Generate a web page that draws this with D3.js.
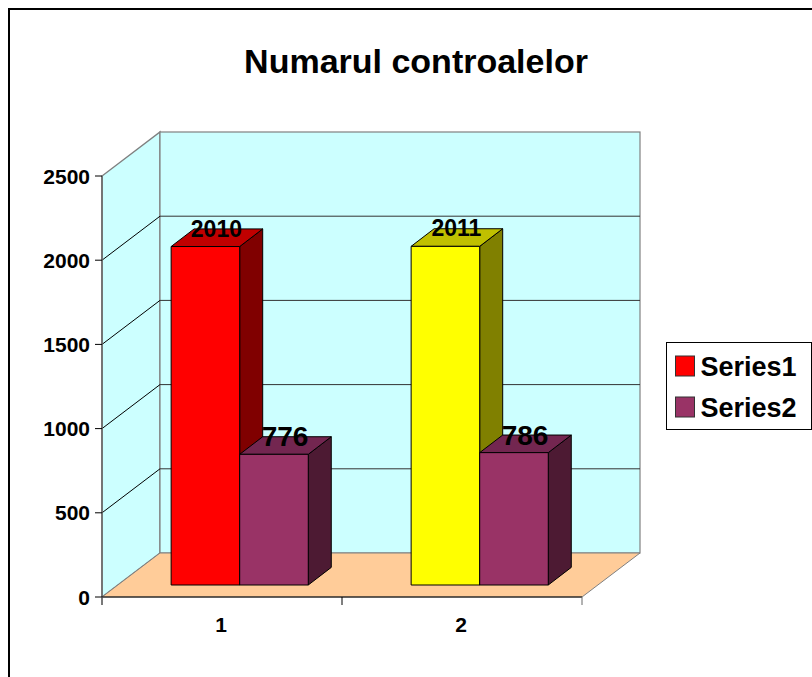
<!DOCTYPE html>
<html><head><meta charset="utf-8">
<script src="https://cdn.jsdelivr.net/npm/d3@7/dist/d3.min.js"></script>
<style>html,body{margin:0;padding:0;background:#fff}svg{display:block}text{font-family:"Liberation Sans",Arial,sans-serif;font-weight:bold;fill:#000}</style>
</head><body><svg id="c" width="812" height="677"></svg>
<script>
const titleText = "Numarul controalelor";
const categories = ["1", "2"];
const seriesNames = ["Series1", "Series2"];
const series1Values = [2010, 2011];
const series2Values = [776, 786];
const series1Labels = ["2010", "2011"];
const series2Labels = ["776", "786"];
const valueTicks = [0, 500, 1000, 1500, 2000, 2500];
const series1Colors = [{f:"#ff0000",t:"#c00000",s:"#800000"},{f:"#ffff00",t:"#c0c000",s:"#808000"}];
const series2Colors = {f:"#993366",t:"#732650",s:"#4d1a33"};

const svg = d3.select("#c");
const depth = {x:58, y:-44}, barDepth = {x:23, y:-17.6}, inset = {x:17.7, y:-12};
const y = d3.scaleLinear().domain([0,2500]).range([597,176]);
const x0 = d3.scaleBand().domain(categories).range([102,582]).paddingInner(0).paddingOuter(0);
const x1 = d3.scaleBand().domain(seriesNames).range([0,x0.bandwidth()]).paddingOuter(0.75).paddingInner(0);
const poly = pts => pts.map(p=>p.join(",")).join(" ");

// frame
svg.append("rect").attr("x",9).attr("y",9).attr("width",830).attr("height",700).attr("fill","#fff").attr("stroke","#000").attr("stroke-width",2);

// title
svg.append("text").attr("x",416).attr("y",73).attr("text-anchor","middle").style("font-size","34px").text(titleText);

const x_l = x0.range()[0], x_r = x0.range()[1], y0 = y(0), yT = y(2500);
// side wall + back wall + floor
svg.append("polygon").attr("points",poly([[x_l,y0],[x_l+depth.x,y0+depth.y],[x_l+depth.x,yT+depth.y],[x_l,yT]])).attr("fill","#ccffff").attr("stroke","#808080").attr("stroke-width",1.4);
svg.append("rect").attr("x",x_l+depth.x).attr("y",yT+depth.y).attr("width",x_r-x_l).attr("height",y0-yT).attr("fill","#ccffff").attr("stroke","#808080").attr("stroke-width",1.2);
svg.append("polygon").attr("points",poly([[x_l,y0],[x_r,y0],[x_r+depth.x,y0+depth.y],[x_l+depth.x,y0+depth.y]])).attr("fill","#ffcc99").attr("stroke","#808080").attr("stroke-width",1);

// gridlines
svg.selectAll("line.gs").data(valueTicks.slice(1,-1)).join("line").attr("class","gs")
  .attr("x1",x_l).attr("y1",d=>y(d)).attr("x2",x_l+depth.x).attr("y2",d=>y(d)+depth.y).attr("stroke","#000").attr("stroke-width",1);
svg.selectAll("line.gb").data(valueTicks.slice(1,-1)).join("line").attr("class","gb")
  .attr("x1",x_l+depth.x).attr("y1",d=>y(d)+depth.y).attr("x2",x_r+depth.x).attr("y2",d=>y(d)+depth.y).attr("stroke","#333").attr("stroke-width",1);

// axes
svg.append("line").attr("x1",x_l).attr("x2",x_l).attr("y1",yT).attr("y2",y0+8).attr("stroke","#666").attr("stroke-width",1.5);
svg.append("line").attr("x1",x_l).attr("x2",x_r).attr("y1",y0).attr("y2",y0).attr("stroke","#000").attr("stroke-width",1.2);
svg.selectAll("line.ty").data(valueTicks).join("line").attr("class","ty")
  .attr("x1",x_l-7).attr("x2",x_l).attr("y1",d=>y(d)).attr("y2",d=>y(d)).attr("stroke","#000");
svg.selectAll("line.tx").data(d3.range(categories.length+1)).join("line").attr("class","tx")
  .attr("x1",i=>x_l+i*x0.step()).attr("x2",i=>x_l+i*x0.step()).attr("y1",y0).attr("y2",y0+8).attr("stroke",i=>i===1?"#000":"#666");
svg.selectAll("text.yl").data(valueTicks).join("text").attr("class","yl")
  .attr("x",90).attr("y",d=>y(d)).attr("dy","0.36em").attr("text-anchor","end").style("font-size","21px").text(d=>d);
svg.selectAll("text.xl").data(categories).join("text").attr("class","xl")
  .attr("x",d=>x0(d)+x0.bandwidth()/2-1).attr("y",632).attr("text-anchor","middle").style("font-size","21px").text(d=>d);

// bars
function bar(cat,name,val,col){
  const xa = x0(cat)+x1(name)+inset.x, xb = xa+x1.bandwidth();
  const yb = y0+inset.y, yt = yb-(y(0)-y(val));
  const g = svg.append("g").attr("stroke","#000").attr("stroke-width",1).attr("stroke-linejoin","round");
  g.append("polygon").attr("points",poly([[xb,yb],[xb+barDepth.x,yb+barDepth.y],[xb+barDepth.x,yt+barDepth.y],[xb,yt]])).attr("fill",col.s);
  g.append("polygon").attr("points",poly([[xa,yt],[xb,yt],[xb+barDepth.x,yt+barDepth.y],[xa+barDepth.x,yt+barDepth.y]])).attr("fill",col.t);
  g.append("rect").attr("x",xa).attr("y",yt).attr("width",xb-xa).attr("height",yb-yt).attr("fill",col.f);
  return {cx:(xa+xb)/2+barDepth.x/2, yt};
}
const pending = [];
categories.forEach((c,i)=>{
  const a = bar(c,seriesNames[0],series1Values[i],series1Colors[i]);
  const b = bar(c,seriesNames[1],series2Values[i],series2Colors);
  pending.push({p:a,t:series1Labels[i],size:23,off:-10});
  pending.push({p:b,t:series2Labels[i],size:28,off:-8});
});
svg.selectAll("text.dl").data(pending).join("text").attr("class","dl")
  .attr("x",d=>d.p.cx-0.5).attr("y",d=>d.p.yt+d.off).attr("text-anchor","middle").style("font-size",d=>d.size+"px").text(d=>d.t);

// legend
const lg = svg.append("g");
lg.append("rect").attr("x",666.5).attr("y",342.5).attr("width",145).attr("height",87).attr("fill","#fff").attr("stroke","#000").attr("stroke-width",1);
const legendY = d3.scalePoint().domain(seriesNames).range([366,407]);
const legendCols = [series1Colors[0].f, series2Colors.f];
seriesNames.forEach((n,i)=>{
  lg.append("rect").attr("x",675.5).attr("y",legendY(n)-10).attr("width",19).attr("height",20).attr("fill",legendCols[i]).attr("stroke","#333");
  lg.append("text").attr("x",700.5).attr("y",legendY(n)+9.5).style("font-size","27px").text(n);
});
</script></body></html>
